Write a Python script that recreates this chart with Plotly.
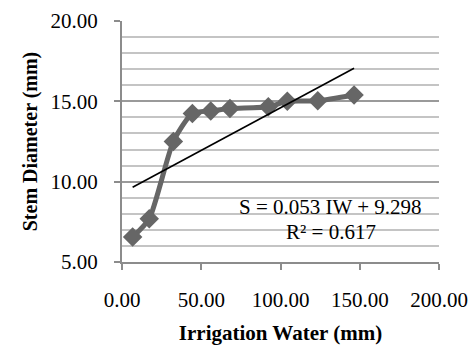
import numpy as np
import plotly.graph_objects as go

# Irrigation water applied (mm) and measured stem diameter (mm)
irrigation_water = [6.7, 17.2, 32.4, 44.4, 56.0, 68.1, 92.3, 104.3, 123.5, 146.4]
stem_diameter = [6.55, 7.69, 12.5, 14.25, 14.4, 14.55, 14.66, 15.0, 15.03, 15.39]

# Linear fit reported on the chart: S = 0.053 IW + 9.298
slope = 0.053
intercept = 9.298
r_squared = 0.617

x_tick_vals = [0, 50, 100, 150, 200]
x_tick_text = ["0.00", "50.00", "100.00", "150.00", "200.00"]
y_tick_vals = [5, 10, 15, 20]
y_tick_text = ["5.00", "10.00", "15.00", "20.00"]

font_family = "Liberation Serif, Times New Roman, serif"
series_color = "#666666"

trend_x = [min(irrigation_water), max(irrigation_water)]
trend_y = [slope * v + intercept for v in trend_x]

fig = go.Figure()

fig.add_trace(go.Scatter(
    x=irrigation_water, y=stem_diameter,
    mode="lines+markers",
    line=dict(color=series_color, width=5, shape="spline", smoothing=0.6),
    marker=dict(symbol="diamond", size=15, color=series_color),
    showlegend=False,
))

fig.add_trace(go.Scatter(
    x=trend_x, y=trend_y,
    mode="lines",
    line=dict(color="black", width=1.6),
    showlegend=False,
))

fig.add_annotation(
    x=131.7, y=8.44, xref="x", yref="y",
    text=f"S = {slope:.3f} IW + {intercept:.3f}",
    showarrow=False,
    font=dict(family=font_family, size=21, color="black"),
)
fig.add_annotation(
    x=131.7, y=6.89, xref="x", yref="y",
    text=f"R² = {r_squared:.3f}",
    showarrow=False,
    font=dict(family=font_family, size=21, color="black"),
)

fig.update_layout(
    width=476, height=345,
    margin=dict(l=122, r=37, t=21, b=83),
    paper_bgcolor="white",
    plot_bgcolor="white",
    font=dict(family=font_family, size=21, color="black"),
    xaxis=dict(
        range=[0, 200],
        automargin=False,
        tickvals=x_tick_vals, ticktext=x_tick_text,
        showgrid=False, zeroline=False,
        showline=True, linecolor="#8c8c8c", linewidth=2,
        ticks="outside", ticklen=6, tickwidth=2, tickcolor="#8c8c8c",
        ticklabelstandoff=12,
        tickfont=dict(family=font_family, size=21),
        title=dict(text="<b>Irrigation Water (mm)</b>", standoff=14,
                   font=dict(family=font_family, size=21)),
    ),
    yaxis=dict(
        range=[5, 20],
        automargin=False,
        tickvals=y_tick_vals, ticktext=y_tick_text,
        showgrid=True, gridcolor="#9a9a9a", gridwidth=2,
        minor=dict(dtick=1, showgrid=True, gridcolor="#c4c4c4", gridwidth=2),
        zeroline=False,
        showline=True, linecolor="#8c8c8c", linewidth=2,
        ticks="outside", ticklen=6, tickwidth=2, tickcolor="#8c8c8c",
        ticklabelstandoff=12,
        tickfont=dict(family=font_family, size=21),
        title=dict(text="<b>Stem Diameter (mm)</b>", standoff=8,
                   font=dict(family=font_family, size=20)),
    ),
)

fig.write_html("out.html")
